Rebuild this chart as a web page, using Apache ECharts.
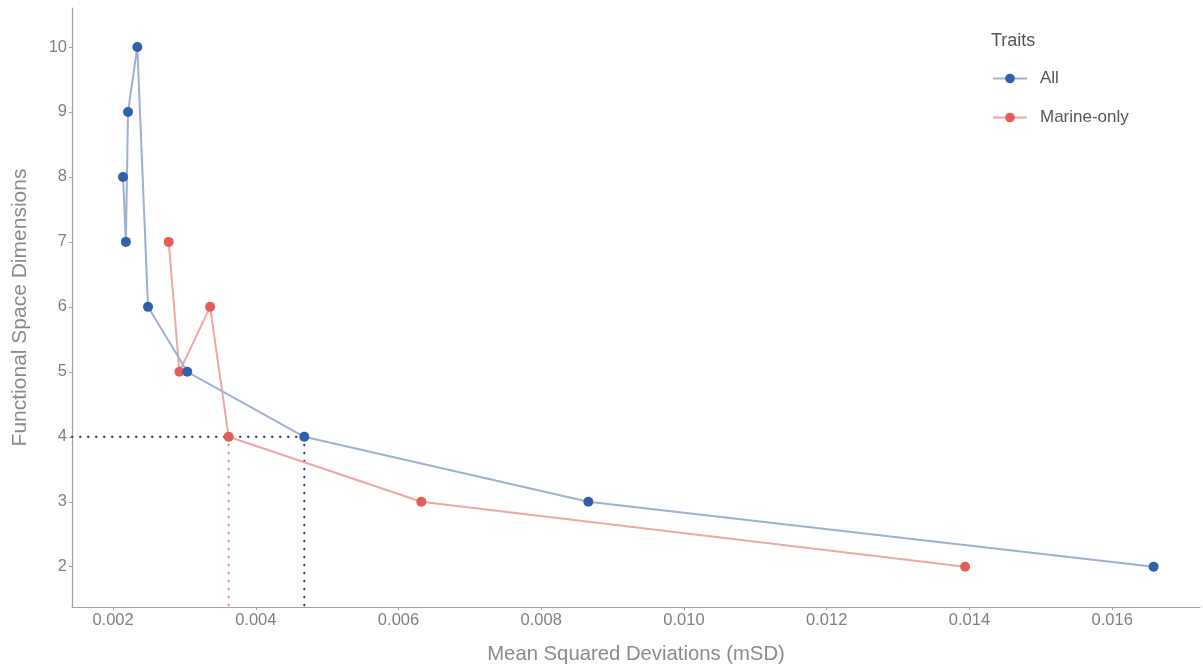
<!DOCTYPE html>
<html>
<head>
<meta charset="utf-8">
<script src="https://cdn.jsdelivr.net/npm/echarts@6/dist/echarts.min.js"></script>
<style>
html,body{margin:0;padding:0;background:#fff;}
#chart{width:1203px;height:669px;}
</style>
</head>
<body>
<div id="chart"></div>
<script>
// Data (x sorted, as drawn by the line)
const allMSD   = [0.00214, 0.00218, 0.00221, 0.00234, 0.00249, 0.00304, 0.00468, 0.00866, 0.01658];
const allDims  = [8, 7, 9, 10, 6, 5, 4, 3, 2];
const marMSD   = [0.00278, 0.00293, 0.00336, 0.00362, 0.00632, 0.01394];
const marDims  = [7, 5, 6, 4, 3, 2];
const xTicks   = [0.002, 0.004, 0.006, 0.008, 0.010, 0.012, 0.014, 0.016];
const yTicks   = [2, 3, 4, 5, 6, 7, 8, 9, 10];
const xRange   = [0.001425, 0.01723];
const yRange   = [1.38, 10.6];
const chosenDims = 4;
const allChosenMSD = 0.00468;
const marChosenMSD = 0.00362;

const blue = '#3160aa', blueLine = '#9fb0d2';
const red = '#e65c58', redLine = '#eda7a6';
const txt = '#7f7f7f';
const font = 'Liberation Sans, Arial, sans-serif';

const chart = echarts.init(document.getElementById('chart'));
chart.setOption({
  backgroundColor: '#fff',
  animation: false,
  title: {
    text: 'Traits', left: 986, top: 27,
    textStyle: {fontFamily: font, fontSize: 18, fontWeight: 'normal', color: '#555'}
  },
  legend: {
    orient: 'vertical', left: 987, top: 65,
    itemWidth: 34, itemHeight: 12, itemGap: 22,
    textStyle: {fontFamily: font, fontSize: 17, color: '#555', padding: [0,0,0,8]},
    data: ['All', 'Marine-only']
  },
  grid: {left: 72, right: 3, top: 8, bottom: 62, containLabel: false},
  xAxis: {
    type: 'value', min: xRange[0], max: xRange[1],
    name: 'Mean Squared Deviations (mSD)', nameLocation: 'middle', nameGap: 37,
    nameTextStyle: {fontFamily: font, fontSize: 20.3, color: '#8a8a8a'},
    axisLine: {show: true, lineStyle: {color: '#a0a0a0', width: 1.2}},
    axisTick: {show: true, length: 3, lineStyle: {color: '#a0a0a0'}, customValues: xTicks},
    axisLabel: {fontFamily: font, fontSize: 16.5, color: txt, margin: 5,
      customValues: xTicks, formatter: v => v.toFixed(3)},
    splitLine: {show: false}
  },
  yAxis: {
    type: 'value', min: yRange[0], max: yRange[1],
    name: 'Functional Space Dimensions', nameLocation: 'middle', nameGap: 41,
    nameTextStyle: {fontFamily: font, fontSize: 21, color: '#8a8a8a'},
    axisLine: {show: true, lineStyle: {color: '#a0a0a0', width: 1.2}},
    axisTick: {show: true, length: 3, lineStyle: {color: '#a0a0a0'}, customValues: yTicks},
    axisLabel: {fontFamily: font, fontSize: 16.5, color: txt, margin: 5, customValues: yTicks},
    splitLine: {show: false}
  },
  series: [
    {
      name: 'hline', type: 'line', silent: true, symbol: 'none',
      data: [[xRange[0], chosenDims], [allChosenMSD, chosenDims]],
      lineStyle: {color: '#34457a', width: 2.2, type: [0.5, 7.5], cap: 'round'}, z: 1
    },
    {
      name: 'vAll', type: 'line', silent: true, symbol: 'none',
      data: [[allChosenMSD, chosenDims], [allChosenMSD, yRange[0]]],
      lineStyle: {color: '#34457a', width: 2.2, type: [0.5, 7.5], cap: 'round'}, z: 1
    },
    {
      name: 'vMar', type: 'line', silent: true, symbol: 'none',
      data: [[marChosenMSD, chosenDims], [marChosenMSD, yRange[0]]],
      lineStyle: {color: '#d98a78', width: 2.2, type: [0.5, 7.5], cap: 'round'}, z: 1
    },
    {
      name: 'All', type: 'line',
      data: allMSD.map((x, i) => [x, allDims[i]]),
      symbol: 'circle', symbolSize: 10,
      itemStyle: {color: blue},
      lineStyle: {color: blueLine, width: 2},
      z: 3
    },
    {
      name: 'Marine-only', type: 'line',
      data: marMSD.map((x, i) => [x, marDims[i]]),
      symbol: 'circle', symbolSize: 10,
      itemStyle: {color: red},
      lineStyle: {color: redLine, width: 2},
      z: 2
    }
  ]
});
</script>
</body>
</html>
